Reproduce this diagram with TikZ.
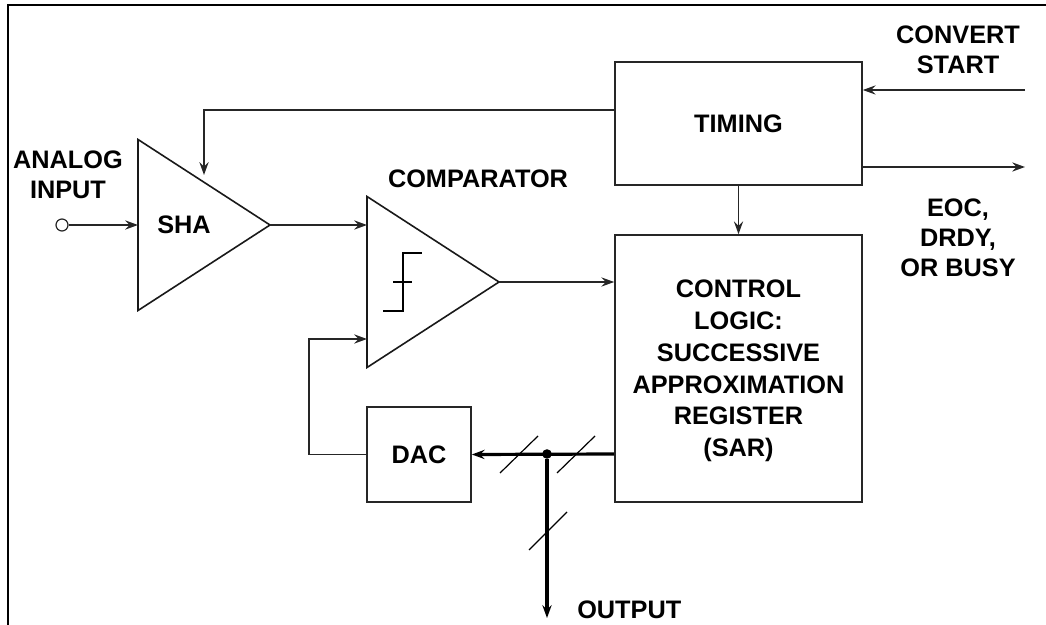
\documentclass[tikz,border=0pt]{standalone}
\usepackage{fontspec}
\setmainfont{Liberation Sans}
\usetikzlibrary{arrows.meta, shapes.geometric}

\begin{document}
\begin{tikzpicture}[
    x=0.25mm, y=-0.25mm,
    >={Stealth[length=3.2mm, width=2.3mm, inset=1.1mm]},
    label/.style={align=center, inner sep=0pt, font=\bfseries\fontsize{18}{21.4}\selectfont},
    block/.style={draw=black!85, line width=0.4mm, inner sep=0pt, align=center, font=\bfseries\fontsize{18}{22.6}\selectfont},
    amp/.style={draw=black!90, line width=0.4mm, isosceles triangle, isosceles triangle stretches, inner sep=0pt, outer sep=0pt, minimum height=33mm, minimum width=42.75mm, anchor=lower side},
    sig/.style={->, line width=0.38mm, draw=black!85},
    bus/.style={line width=0.8mm},
    slash/.style={line width=0.3mm},
    frame/.style={line width=0.5mm}
]

\useasboundingbox (0,0) rectangle (1046,625);

\draw[frame] (8,625) -- (8,5) -- (1046,5);

\node[amp] (sha) at (138,225) {};
\node[amp] (comp) at (367,282) {};

\node[block, minimum width=61.75mm, minimum height=30.75mm] (timing) at (738.5,123.5) {TIMING};
\node[block, minimum width=61.75mm, minimum height=66.75mm] (sar) at (738.5,368.5) {};
\node[block, minimum width=26mm, minimum height=23.75mm] (dac) at (419,454.5) {DAC};

\node[label, font=\bfseries\fontsize{18}{22.6}\selectfont] (lsar) at (738.5,371) {CONTROL\\LOGIC:\\SUCCESSIVE\\APPROXIMATION\\REGISTER\\(SAR)};
\node[label] (lanalog) at (68,175) {ANALOG\\INPUT};
\node[label] (lsha) at (184,225) {SHA};
\node[label] (lcomp) at (478,179) {COMPARATOR};
\node[label] (lconv) at (958,50) {CONVERT\\START};
\node[label] (leoc) at (958,238) {EOC,\\DRDY,\\OR BUSY};
\node[label, anchor=west] (lout) at (577,610) {OUTPUT};

\node[draw=black!85, fill=white, circle, line width=0.3mm, inner sep=0pt, minimum size=3mm] (vin) at (62,225) {};
\node[fill=black, circle, inner sep=0pt, minimum size=2.4mm] (busdot) at (547,454) {};

\coordinate (tmgl) at (615,110);
\coordinate (shain) at (204,175);
\coordinate (convin) at (1025,90);
\coordinate (eocout) at (1025,167);
\coordinate (compa) at (367,225);
\coordinate (compb) at (367,339);
\coordinate (outend) at (547,618);

\draw[sig] (vin.east) -- (sha.lower side);
\draw[sig] (tmgl) -| (shain);
\draw[sig] (sha.apex) -- (compa);
\draw[sig] (comp.apex) -- (sar.west |- comp.apex);
\draw[sig] (timing.south) -- (sar.north);
\draw[sig] (convin) -- (timing.east |- convin);
\draw[sig] (timing.east |- eocout) -- (eocout);
\draw[sig] (dac.west) -| (309,339) -- (compb);

\draw[bus, ->] (sar.west |- busdot) -- (dac.east);
\draw[bus, ->] (busdot) -- (outend);

\draw[slash] (500,473) -- (538,436);
\draw[slash] (557,473) -- (595,436);
\draw[slash] (529,550) -- (567,512);

\draw[line width=0.45mm] (383,311) -- (403,311) -- (403,253) -- (422,253);
\draw[line width=0.35mm] (393,282) -- (412,282);

\end{tikzpicture}
\end{document}
